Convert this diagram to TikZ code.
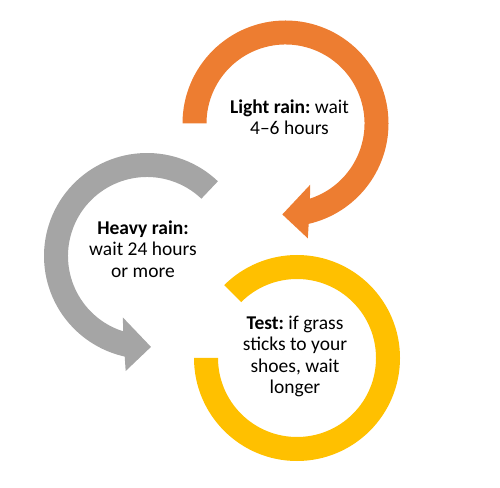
\documentclass[tikz,border=0pt]{standalone}
\usepackage{fontspec}
\setmainfont{Carlito}
\frenchspacing
\definecolor{orangec}{HTML}{ED7D31}
\definecolor{grayc}{HTML}{A5A5A5}
\definecolor{yellowc}{HTML}{FFC000}
\begin{document}
\begin{tikzpicture}[x=1pt,y=1pt,
  lbl/.style={align=center,font=\fontsize{19.5}{21.5}\selectfont,text=black,inner sep=0pt}]
\useasboundingbox (0,0) rectangle (500,487);
% orange circular arrow
\coordinate (oc) at (285.5,363.5);
\fill[orangec,shift={(oc)}] (180:103pt) arc[start angle=180,end angle=-77,radius=103pt]
  -- (-79:117pt) -- (-92:91pt) -- (-68:66pt) -- (-72:79pt)
  arc[start angle=-72,end angle=180,radius=79pt] -- cycle;
% gray circular arrow
\coordinate (gc) at (147,231);
\fill[grayc,shift={(gc)}] (46.5:103pt) arc[start angle=46.5,end angle=257.5,radius=103pt]
  -- (259.5:117pt) -- (272.5:91pt) -- (248.5:66pt) -- (252.5:79pt)
  arc[start angle=252.5,end angle=46.5,radius=79pt] -- cycle;
% yellow block arc
\coordinate (yc) at (297,129);
\fill[yellowc,shift={(yc)}] (180:103pt) arc[start angle=180,end angle=495,radius=103pt]
  -- (135:79pt) arc[start angle=135,end angle=-180,radius=79pt] -- cycle;
% labels
\node[lbl] (light) at (289.5,370) {\textbf{Light rain:} wait\\4–6 hours};
\node[lbl] (heavy) at (143,238) {\textbf{Heavy rain:}\\wait 24 hours\\or more};
\node[lbl] (test) at (295,130.5) {\textbf{Test:} if grass\\sticks to your\\shoes, wait\\longer};
\end{tikzpicture}
\end{document}
